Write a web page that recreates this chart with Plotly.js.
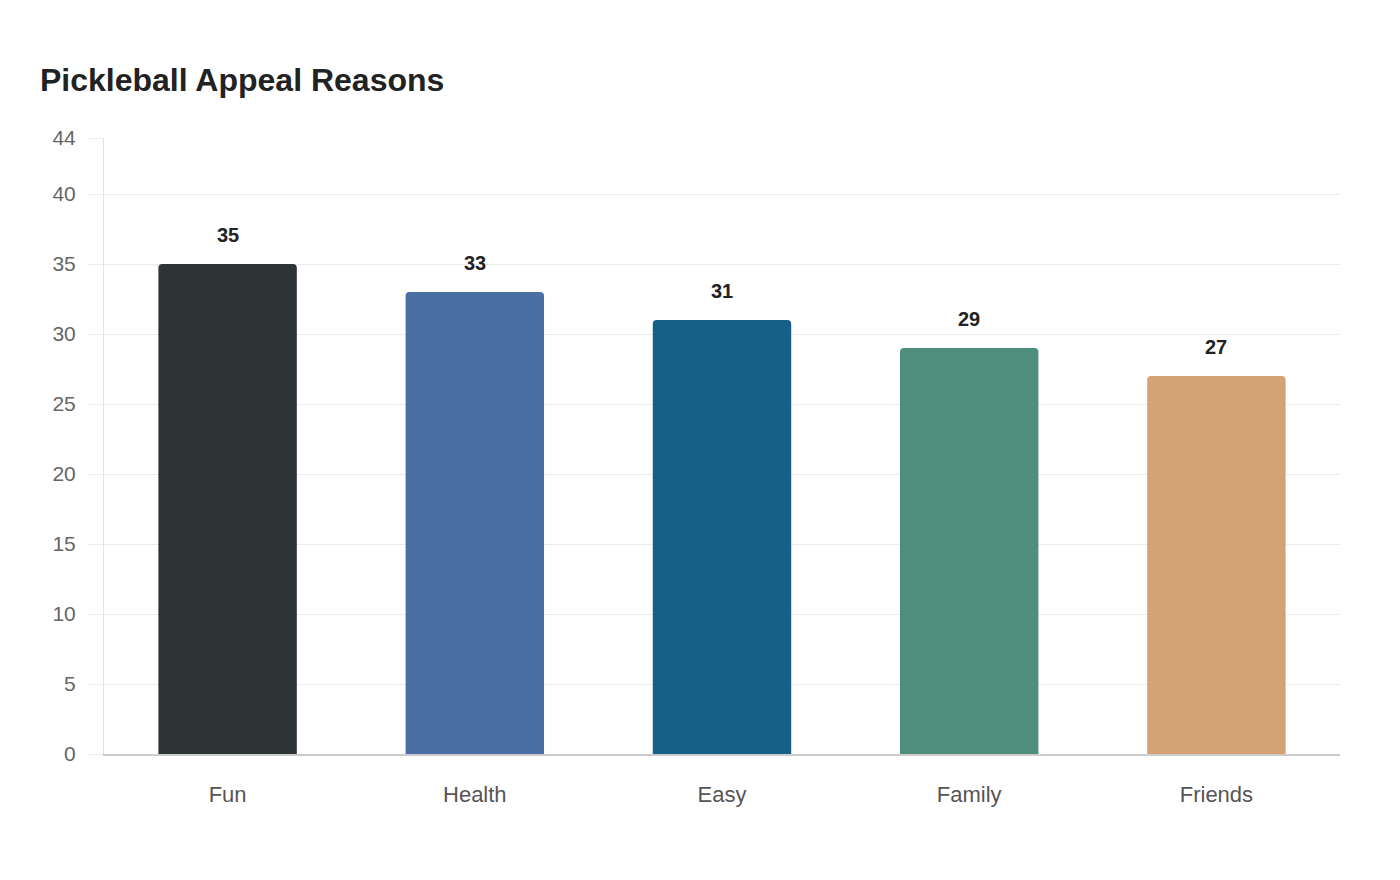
<!DOCTYPE html>
<html>
<head>
<meta charset="utf-8">
<script src="https://cdn.plot.ly/plotly-3.0.1.min.js"></script>
<style>html,body{margin:0;padding:0;background:#fff;}#chart{width:1400px;height:880px;}</style>
</head>
<body>
<div id="chart"></div>
<script>
const categories = ["Fun", "Health", "Easy", "Family", "Friends"];
const values = [35, 33, 31, 29, 27];
const barColors = ["#2d3436", "#4a6fa5", "#166088", "#4f8e7c", "#d4a373"];
const yTickVals = [0, 5, 10, 15, 20, 25, 30, 35, 40, 44];
const yTickText = ["0", "5", "10", "15", "20", "25", "30", "35", "40", "44"];

const trace = {
  type: "bar",
  x: categories,
  y: values,
  marker: { color: barColors, cornerradius: 4, line: { width: 0 } },
  hoverinfo: "x+y"
};

const annotations = categories.map((c, i) => ({
  x: c, y: values[i], xref: "x", yref: "y",
  text: String(values[i]),
  showarrow: false,
  yanchor: "middle",
  yshift: 29,
  font: { family: "Liberation Sans, Arial, sans-serif", size: 20, color: "#222222", weight: "bold" }
}));

const layout = {
  width: 1400, height: 880,
  paper_bgcolor: "#ffffff", plot_bgcolor: "#ffffff",
  margin: { l: 104, r: 60, t: 138, b: 126 },
  showlegend: false,
  bargap: 0.44,
  title: {
    text: "<b>Pickleball Appeal Reasons</b>",
    x: 40 / 1400, xref: "container", xanchor: "left",
    y: 1 - 80 / 880, yref: "container", yanchor: "middle",
    font: { family: "Liberation Sans, Arial, sans-serif", size: 32, color: "#222222" }
  },
  xaxis: {
    showgrid: false,
    showline: true, linecolor: "#cccccc", linewidth: 1.5,
    ticks: "", ticklabelstandoff: 20,
    tickfont: { family: "Liberation Sans, Arial, sans-serif", size: 22, color: "#555555" }
  },
  yaxis: {
    range: [0, 44],
    tickvals: yTickVals, ticktext: yTickText,
    showgrid: true, gridcolor: "#ebebeb", gridwidth: 1,
    zeroline: false,
    showline: true, linecolor: "#e3e3e3", linewidth: 1,
    ticks: "outside", ticklen: 15, tickcolor: "#ebebeb", tickwidth: 1,
    ticklabelstandoff: 8,
    tickfont: { family: "Liberation Sans, Arial, sans-serif", size: 21, color: "#666666" }
  },
  annotations: annotations
};

Plotly.newPlot("chart", [trace], layout, { displayModeBar: false, staticPlot: true });
</script>
</body>
</html>
